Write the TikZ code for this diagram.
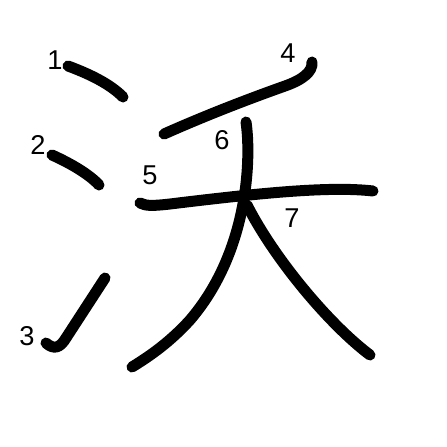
\documentclass[tikz,border=0pt]{standalone}
\usepackage{fontspec}
\setmainfont{Liberation Sans}
\usetikzlibrary{positioning}

\begin{document}
\begin{tikzpicture}[x=0.02cm,y=-0.02cm,kstroke/.style={line width=11*0.02cm,line cap=round,line join=round},num/.style={font=\fontsize{15.5}{15.5}\selectfont,inner sep=0pt}]
\useasboundingbox (0,0) rectangle (447,447);
% strokes of the character
\draw[kstroke] (68,66) .. controls (95,76) and (112,86) .. (123,97);
\draw[kstroke] (52,155) .. controls (72,164) and (90,175) .. (99,185);
\draw[kstroke] (46,343) .. controls (54,350) and (60,348) .. (66,338) -- (105,278);
\draw[kstroke] (312,62) .. controls (313,72) and (302,80) .. (285,86) .. controls (240,102) and (200,118) .. (164,134);
\draw[kstroke] (140,203) .. controls (146,206) and (152,206) .. (170,204) .. controls (260,193) and (330,186) .. (373,191);
\draw[kstroke] (246,122) .. controls (251,155) and (250,250) .. (190,320) .. controls (170,342) and (150,356) .. (132,367);
\draw[kstroke] (247,205) .. controls (275,260) and (330,325) .. (370,355);
% stroke numbers
\node[num] (n1) at (55,60) {1};
\node[num] (n2) at (38,145) {2};
\node[num] (n3) at (27,336) {3};
\node[num] (n4) at (288,53) {4};
\node[num] (n5) at (150,175) {5};
\node[num] (n6) at (222,140) {6};
\node[num] (n7) at (292,218) {7};
\end{tikzpicture}
\end{document}
